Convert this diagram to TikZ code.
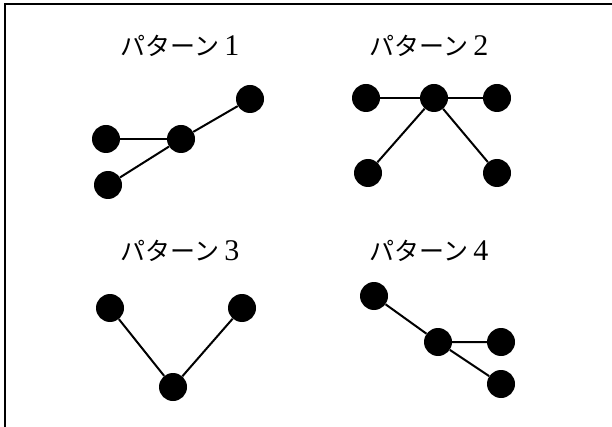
\documentclass[tikz,border=0pt]{standalone}
\usepackage{fontspec}
\newfontfamily\jpfont{Noto Sans CJK JP}
\newfontfamily\digitfont{Liberation Serif}
\newcommand{\patname}[1]{{\jpfont パターン}\hspace{5pt}{\digitfont\fontsize{30}{30}\selectfont #1}}
\begin{document}
\begin{tikzpicture}[x=1pt,y=-1pt]
		    \tikzset{
   			vertex/.style={fill, circle, inner sep=0, minimum size=28},
    		title/.style={font=\fontsize{25}{29}\selectfont},
    		arc/.style={line width=2}
		    }
            \useasboundingbox (0,0) rectangle (612,427);
            \coordinate (c0) at (5,427);
            \coordinate (c1) at (5,4);
            \coordinate (c2) at (612,4);
            \draw[line width=1.5] (c0) -- (c1) -- (c2);

            % pattern 1
            \draw node[title] (t1) at (180,46) {\patname{1}};
            \draw node[vertex] (a0) at (106,139) {};
            \draw node[vertex] (a1) at (181,139) {};
            \draw node[vertex] (a2) at (250,99) {};
            \draw node[vertex] (a3) at (108,185) {};
            \draw[arc] (a0) -- (a1);
            \draw[arc] (a3) -- (a1) -- (a2);

            % pattern 2
            \draw node[title] (t2) at (429,46) {\patname{2}};
            \draw node[vertex] (b0) at (366,98) {};
            \draw node[vertex] (b1) at (434,98) {};
            \draw node[vertex] (b2) at (497,98) {};
            \draw node[vertex] (b3) at (368,173) {};
            \draw node[vertex] (b4) at (497,173) {};
            \draw[arc] (b0) -- (b1) -- (b2);
            \draw[arc] (b3) -- (b1) -- (b4);

            % pattern 3
            \draw node[title] (t3) at (180,251) {\patname{3}};
            \draw node[vertex] (c3) at (110,308) {};
            \draw node[vertex] (c4) at (242,308) {};
            \draw node[vertex] (c5) at (173,387) {};
            \draw[arc] (c3) -- (c5) -- (c4);

            % pattern 4
            \draw node[title] (t4) at (429,251) {\patname{4}};
            \draw node[vertex] (d0) at (374,296) {};
            \draw node[vertex] (d1) at (438,342) {};
            \draw node[vertex] (d2) at (501,342) {};
            \draw node[vertex] (d3) at (501,384) {};
            \draw[arc] (d0) -- (d1) -- (d2);
            \draw[arc] (d1) -- (d3);
	    \end{tikzpicture}
\end{document}
